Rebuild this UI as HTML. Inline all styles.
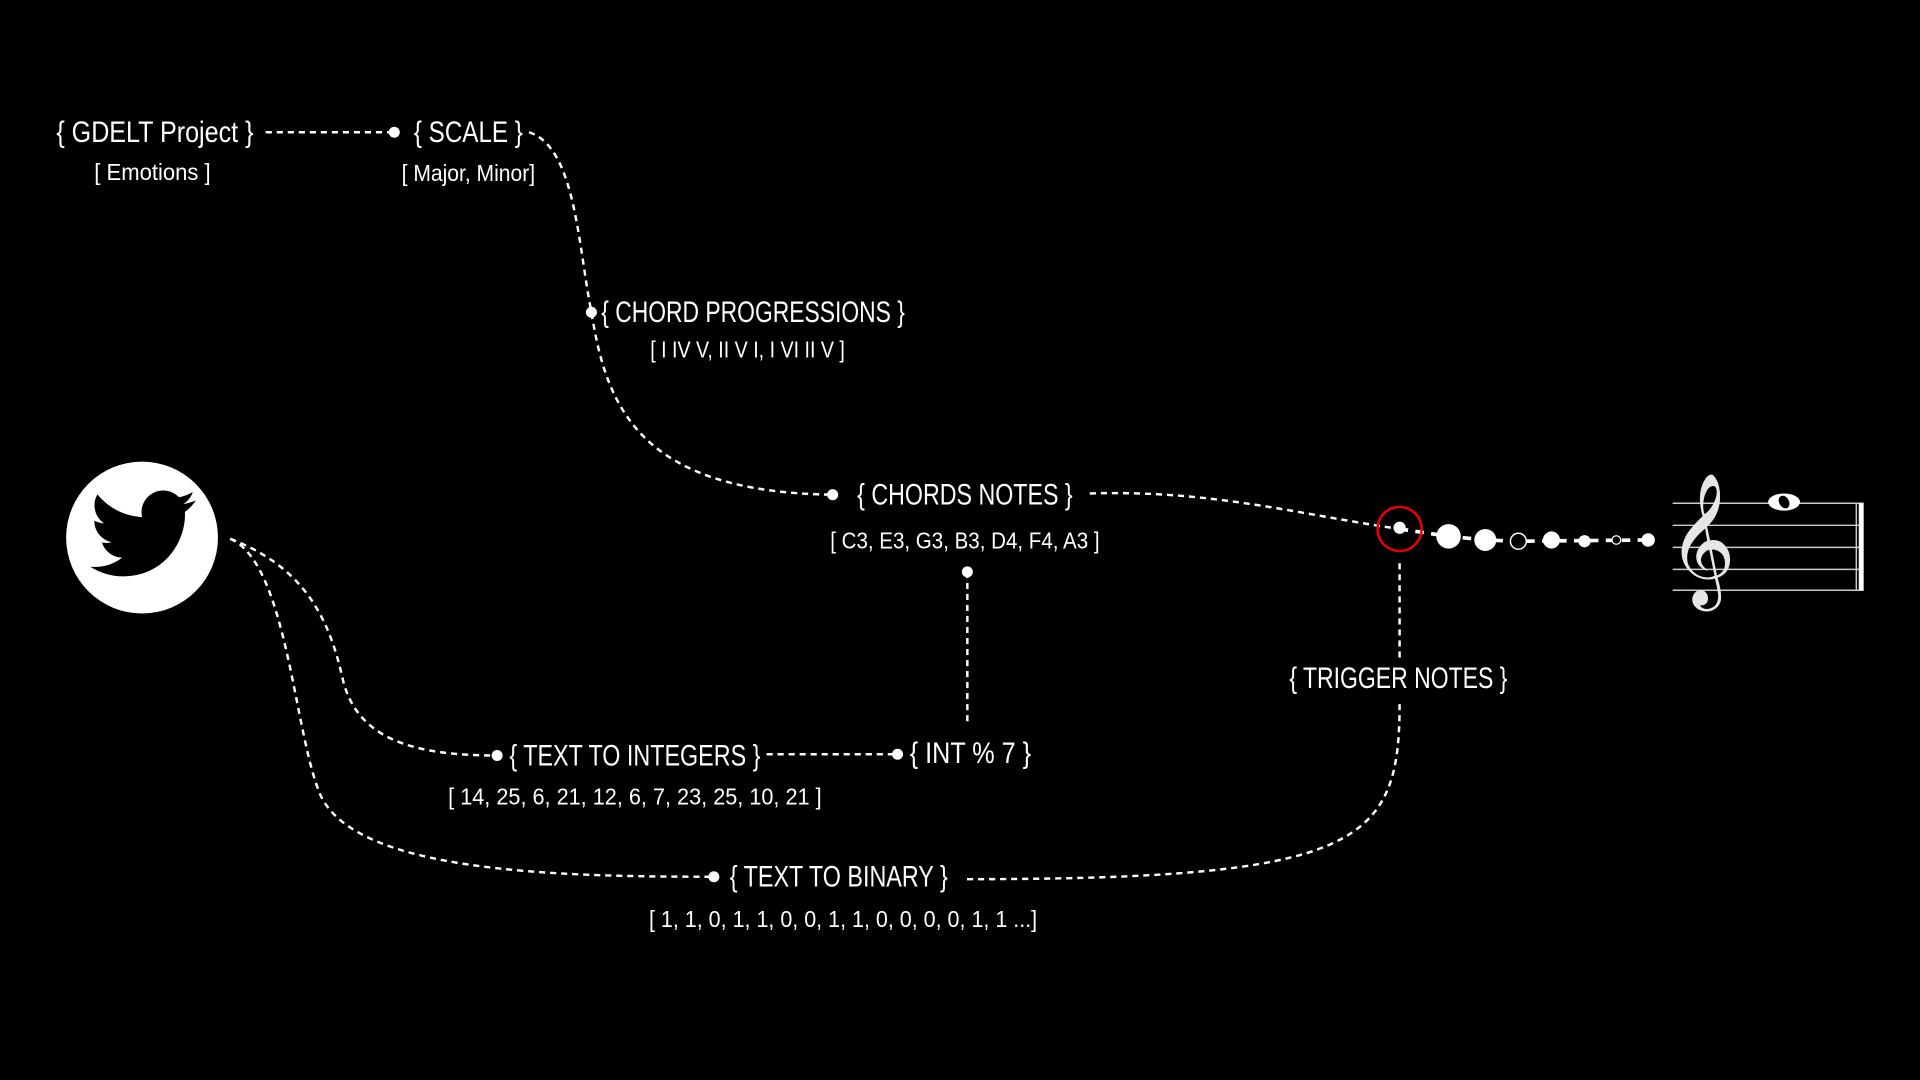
<!DOCTYPE html>
<html><head><meta charset="utf-8"><style>
html,body{margin:0;padding:0;background:#000;width:1920px;height:1080px;overflow:hidden}
svg text{font-family:"Liberation Sans Narrow","Liberation Sans",sans-serif;fill:#fff}
</style></head><body>
<svg width="1920" height="1080" viewBox="0 0 1568 882" xmlns="http://www.w3.org/2000/svg">
<rect width="1568" height="882" fill="#000"/>
<g fill="none" stroke="#fff" stroke-width="2" stroke-dasharray="5,4">
<path d="M217,108 L322,108"/>
<path d="M432,108 C470,120 472,200 483,255 C495,330 520,402 680,404"/>
<path d="M890,403 C990,400 1060,420 1143,432"/>
<path d="M790,467 L790,590"/>
<path d="M188,440 C245,462 268,500 280,555 C292,605 340,617 406,617"/>
<path d="M188,440 C235,460 240,600 262,650 C292,712 450,716 583,716"/>
<path d="M626,616 L733,616"/>
<path d="M1143,460 L1143,540"/>
<path d="M1143,575 C1143,690 1110,718 788,718"/>
</g>
<g fill="none" stroke="#fff" stroke-width="3" stroke-dasharray="7,6">
<path d="M1143,432 L1183,438 L1213,441 L1240,442 L1345,441"/>
</g>
<g fill="#fff">
<circle cx="322" cy="108" r="4.5"/><circle cx="483" cy="255" r="4.5"/><circle cx="680" cy="404" r="4.5"/>
<circle cx="790" cy="467" r="4.5"/><circle cx="406" cy="617" r="4.5"/><circle cx="733" cy="616" r="4.5"/>
<circle cx="583" cy="716" r="4.5"/>
<circle cx="1143" cy="431" r="5"/>
<circle cx="1183" cy="438" r="10"/><circle cx="1213" cy="441" r="9"/>
<circle cx="1267" cy="441" r="7"/><circle cx="1294" cy="442" r="5"/><circle cx="1346" cy="441" r="5.5"/>
</g>
<circle cx="1240" cy="442" r="6.5" fill="#000" stroke="#fff" stroke-width="1.2"/>
<circle cx="1320" cy="441" r="3.5" fill="#000" stroke="#fff" stroke-width="1"/>
<circle cx="1143" cy="432" r="18" fill="none" stroke="#e00" stroke-width="2"/>
<g stroke="#ccc" stroke-width="1.2">
<line x1="1366" y1="411" x2="1522" y2="411"/><line x1="1366" y1="429" x2="1522" y2="429"/>
<line x1="1366" y1="447" x2="1522" y2="447"/><line x1="1366" y1="465" x2="1522" y2="465"/>
<line x1="1366" y1="482" x2="1522" y2="482"/><line x1="1516" y1="411" x2="1516" y2="482"/>
</g>
<rect x="1518" y="411" width="4" height="71" fill="#fff"/>
<ellipse cx="1457" cy="410" rx="13" ry="7" fill="#fff"/>
<ellipse cx="1457" cy="410" rx="4" ry="5.5" fill="#000" transform="rotate(-30 1457 410)"/>
<text x="1362" y="472" style="font-family:'DejaVu Sans',serif;font-size:94px;fill:#e8e6e4">𝄞</text>
<circle cx="116" cy="439" r="62" fill="#fff"/>
<path transform="translate(70,390) scale(3.8)" fill="#000" d="M23.643 4.937c-.835.37-1.732.62-2.675.755.962-.576 1.7-1.49 2.048-2.578-.9.534-1.897.922-2.958 1.130-.85-.904-2.060-1.470-3.400-1.470-2.572 0-4.658 2.086-4.658 4.660 0 .364.042.718.120 1.060-3.873-.195-7.304-2.050-9.602-4.868-.4.690-.630 1.490-.630 2.342 0 1.616.823 3.043 2.072 3.878-.764-.025-1.482-.234-2.110-.583v.060c0 2.257 1.605 4.140 3.737 4.568-.392.106-.803.162-1.227.162-.3 0-.593-.028-.877-.082.593 1.850 2.313 3.198 4.352 3.234-1.595 1.250-3.604 1.995-5.786 1.995-.376 0-.747-.022-1.112-.065 2.062 1.323 4.510 2.093 7.140 2.093 8.570 0 13.255-7.098 13.255-13.254 0-.2-.005-.402-.014-.602.910-.658 1.700-1.477 2.323-2.410z"/>
<g font-size="24">
<text x="46" y="116" textLength="161" lengthAdjust="spacingAndGlyphs">{ GDELT Project }</text>
<text x="338" y="116" textLength="89" lengthAdjust="spacingAndGlyphs">{ SCALE }</text>
<text x="491" y="263" textLength="248" lengthAdjust="spacingAndGlyphs">{ CHORD PROGRESSIONS }</text>
<text x="700" y="412" textLength="176" lengthAdjust="spacingAndGlyphs">{ CHORDS NOTES }</text>
<text x="1053" y="562" textLength="178" lengthAdjust="spacingAndGlyphs">{ TRIGGER NOTES }</text>
<text x="416" y="625" textLength="205" lengthAdjust="spacingAndGlyphs">{ TEXT TO INTEGERS }</text>
<text x="743" y="623" textLength="99" lengthAdjust="spacingAndGlyphs">{ INT % 7 }</text>
<text x="596" y="724" textLength="178" lengthAdjust="spacingAndGlyphs">{ TEXT TO BINARY }</text>
</g>
<g font-size="19">
<text x="77" y="147" textLength="95" lengthAdjust="spacingAndGlyphs">[ Emotions ]</text>
<text x="328" y="148" textLength="109" lengthAdjust="spacingAndGlyphs">[ Major, Minor]</text>
<text x="531" y="292" textLength="159" lengthAdjust="spacingAndGlyphs">[ I IV V, II V I, I VI II V ]</text>
<text x="678" y="448" textLength="220" lengthAdjust="spacingAndGlyphs">[ C3, E3, G3, B3, D4, F4, A3 ]</text>
<text x="366" y="657" textLength="305" lengthAdjust="spacingAndGlyphs">[ 14, 25, 6, 21, 12, 6, 7, 23, 25, 10, 21 ]</text>
<text x="530" y="757" textLength="317" lengthAdjust="spacingAndGlyphs">[ 1, 1, 0, 1, 1, 0, 0, 1, 1, 0, 0, 0, 0, 1, 1 ...]</text>
</g>
</svg>
</body></html>
